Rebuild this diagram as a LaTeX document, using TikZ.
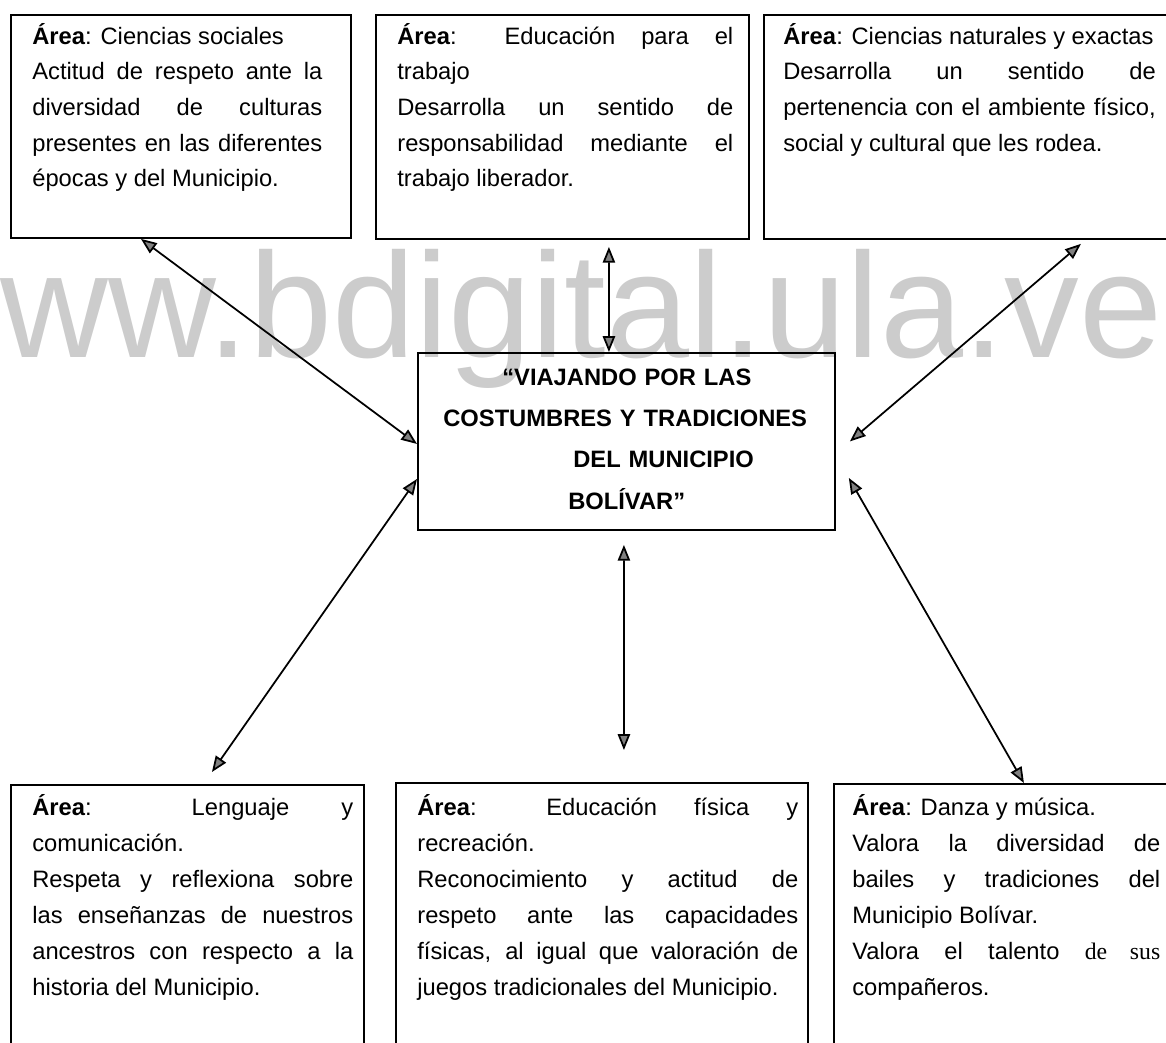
\documentclass[tikz,border=0pt]{standalone}
\usepackage{fontspec}
\setmainfont{Liberation Sans}
\newfontfamily\timesfont{Liberation Serif}
\usetikzlibrary{arrows.meta}
\newcommand{\area}{\textbf{Área}}

\begin{document}
\begin{tikzpicture}[x=0.02cm,y=-0.02cm,
  areabox/.style={draw,line width=1.1pt,anchor=north west,inner sep=0pt},
  areatext/.style 2 args={anchor=base west,inner sep=0pt,align=justify,text width=#2,
    font=\fontsize{13.5}{#1}\selectfont\hyphenpenalty10000\relax},
  link/.style={{Triangle[fill=gray,length=9pt,width=7pt]}-{Triangle[fill=gray,length=9pt,width=7pt]},line width=1pt}]
\useasboundingbox (0,0) rectangle (1166,1042);
\clip (0,0) rectangle (1166,1042);

\node[anchor=base west,inner sep=0pt,text=black!20,font=\fontsize{85}{85}\selectfont] (wm) at (0,357) {ww.bdigital.ula.ve};

\node[areabox,minimum width=6.8cm,minimum height=4.46cm] (cs) at (10,14) {};
\node[areatext={20.3}{5.8cm}] (cs-t) at (32,44) {\area: Ciencias sociales\\
Actitud de respeto ante la\linebreak
diversidad de culturas\linebreak
presentes en las diferentes\linebreak
épocas y del Municipio.};

\node[areabox,minimum width=7.46cm,minimum height=4.48cm] (ept) at (375,14) {};
\node[areatext={20.3}{6.72cm}] (ept-t) at (397,44) {\area: Educación para el\linebreak
trabajo\\
Desarrolla un sentido de\linebreak
responsabilidad mediante el\linebreak
trabajo liberador.};

\node[areabox,minimum width=8.6cm,minimum height=4.48cm] (cne) at (763,14) {};
\node[areatext={20.3}{7.45cm}] (cne-t) at (783,44) {\mbox{\area: Ciencias naturales y exactas}\\
Desarrolla un sentido de\linebreak
pertenencia con el ambiente físico,\linebreak
social y cultural que les rodea.};

\node[areabox,minimum width=8.34cm,minimum height=3.54cm] (vct) at (417,352) {};
\node[anchor=base west,inner sep=0pt,align=left,text width=7.4cm,
  font=\fontsize{13.5}{23.6}\selectfont\bfseries] (vct-t) at (443,385) {\hspace*{1.18cm}“VIAJANDO POR LAS\\
COSTUMBRES Y TRADICIONES\\
\hspace*{2.6cm}DEL MUNICIPIO\\
\hspace*{2.5cm}BOLÍVAR”};

\node[areabox,minimum width=7.06cm,minimum height=6cm] (lc) at (10,784) {};
\node[areatext={20.6}{6.42cm}] (lc-t) at (32,815) {\area: Lenguaje y\linebreak
comunicación.\\
Respeta y reflexiona sobre\linebreak
las enseñanzas de nuestros\linebreak
ancestros con respecto a la\linebreak
historia del Municipio.};

\node[areabox,minimum width=8.24cm,minimum height=6cm] (efr) at (395,782) {};
\node[areatext={20.6}{7.62cm}] (efr-t) at (417,815) {\area: Educación física y\linebreak
recreación.\\
Reconocimiento y actitud de\linebreak
respeto ante las capacidades\linebreak
físicas, al igual que valoración de\linebreak
juegos tradicionales del Municipio.};

\node[areabox,minimum width=8cm,minimum height=6cm] (dm) at (833,783) {};
\node[areatext={20.6}{6.16cm}] (dm-t) at (852,815) {\area: Danza y música.\\
Valora la diversidad de\linebreak
bailes y tradiciones del\linebreak
Municipio Bolívar.\\
Valora el talento {\timesfont de sus}\linebreak
compañeros.};

\draw[link] ([xshift=-0.8cm]cs.south) -- ([yshift=-0.05cm]vct.west);
\draw[link] ([xshift=0.93cm,yshift=-0.14cm]ept.south) -- ([xshift=-0.35cm]vct.north);
\draw[link] ([xshift=2.04cm,yshift=-0.08cm]cne.south) -- ([xshift=0.28cm]vct.east);
\draw[link] ([yshift=-0.75cm]vct.west) -- ([xshift=0.49cm,yshift=0.24cm]lc.north);
\draw[link] ([xshift=-0.05cm,yshift=-0.28cm]vct.south) -- ([xshift=0.44cm,yshift=0.64cm]efr.north);
\draw[link] ([xshift=0.26cm,yshift=-0.73cm]vct.east) -- ([xshift=-0.2cm]dm.north);

\end{tikzpicture}
\end{document}
